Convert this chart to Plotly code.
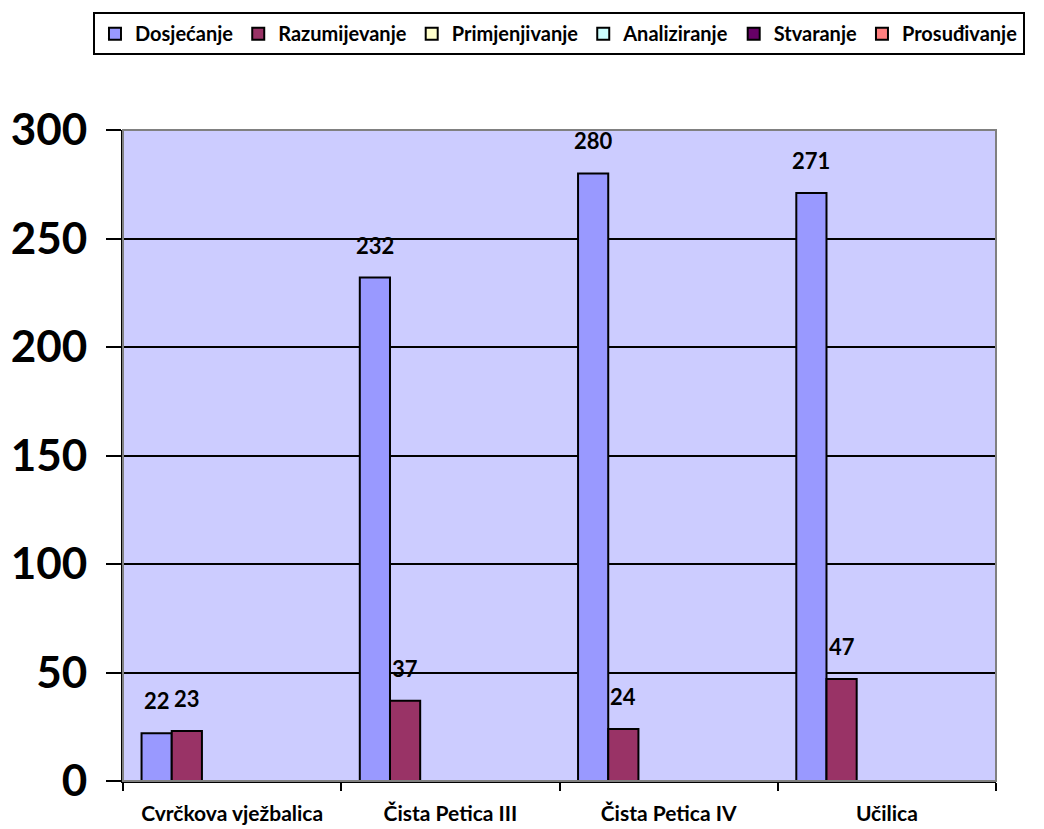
import plotly.graph_objects as go

categories = ["Cvrčkova vježbalica", "Čista Petica III", "Čista Petica IV", "Učilica"]
series_names = ["Dosjećanje", "Razumijevanje", "Primjenjivanje", "Analiziranje", "Stvaranje", "Prosuđivanje"]
dosjecanje = [22, 232, 280, 271]
razumijevanje = [23, 37, 24, 47]
primjenjivanje = [0, 0, 0, 0]
analiziranje = [0, 0, 0, 0]
stvaranje = [0, 0, 0, 0]
prosudivanje = [0, 0, 0, 0]
series_values = [dosjecanje, razumijevanje, primjenjivanje, analiziranje, stvaranje, prosudivanje]
colors = ["#9999FF", "#993366", "#FFFFCC", "#CCFFFF", "#660066", "#FF8080"]
y_ticks = [0, 50, 100, 150, 200, 250, 300]

FONT = "Lato"
bargap = 0.17
n = len(series_names)
bw = (1 - bargap) / n

fig = go.Figure()
annotations = []
for i, (name, vals, col) in enumerate(zip(series_names, series_values, colors)):
    fig.add_trace(go.Bar(
        name=name, x=categories, y=vals,
        marker=dict(color=col, line=dict(color="black", width=2)),
    ))
    off = -0.5 + bargap / 2 + (i + 0.5) * bw
    for j, v in enumerate(vals):
        if v:
            annotations.append(dict(
                x=j + off, y=v, xref="x", yref="y", text=str(v), showarrow=False,
                yanchor="bottom", yshift=17,
                font=dict(family=FONT, size=22, color="black", weight="bold"),
            ))

fig.add_shape(type="rect", xref="paper", yref="paper", x0=0, x1=1, y0=0, y1=1,
              line=dict(color="#808080", width=2), layer="above")

fig.update_layout(
    width=1044, height=829,
    margin=dict(l=115, r=56, t=122, b=56, autoexpand=False),
    paper_bgcolor="white", plot_bgcolor="#CCCCFF",
    barmode="group", bargap=bargap, bargroupgap=0,
    annotations=annotations,
    showlegend=True,
    legend=dict(
        orientation="h", x=-0.0344, y=1.181, xanchor="left", yanchor="top",
        bordercolor="black", borderwidth=2, bgcolor="white",
        font=dict(family=FONT, size=20, color="black", weight="bold"),
        itemwidth=30, traceorder="normal",
    ),
    xaxis=dict(
        range=[-0.5, 3.5], tickson="boundaries", ticks="outside", ticklen=8,
        tickwidth=2, tickcolor="black", automargin=False,
        showline=True, linecolor="black", linewidth=2, showgrid=False,
        tickfont=dict(family=FONT, size=21, color="black", weight="bold"),
        ticklabelstandoff=13,
    ),
    yaxis=dict(
        range=[0, 300], tickvals=y_ticks, ticks="outside", ticklen=15,
        tickwidth=2, tickcolor="black", automargin=False,
        showline=True, linecolor="black", linewidth=2,
        showgrid=True, gridcolor="black", gridwidth=2, zeroline=False,
        tickfont=dict(family=FONT, size=44, color="black", weight="bold"),
        ticklabelstandoff=10,
    ),
)

fig.write_html("out.html")
